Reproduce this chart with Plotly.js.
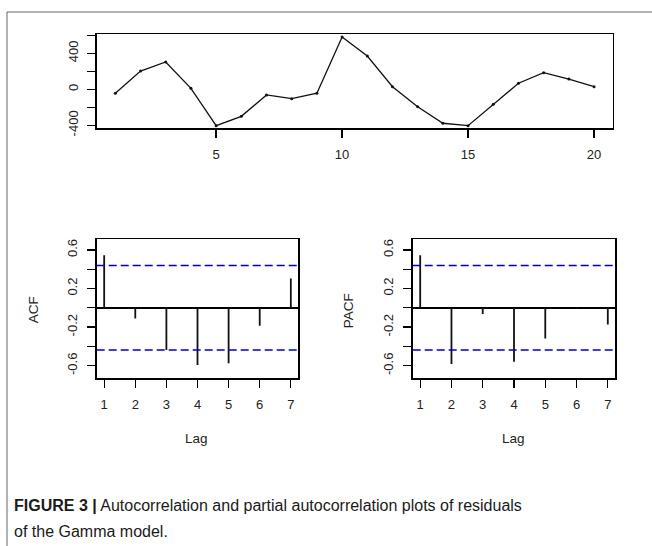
<!DOCTYPE html>
<html>
<head>
<meta charset="utf-8">
<script src="https://cdn.plot.ly/plotly-3.0.1.min.js"></script>
<style>html,body{margin:0;padding:0;background:#fff;}#chart{width:652px;height:546px;}</style>
</head>
<body>
<div id="chart"></div>
<script>
// Residual series (time index 1..20)
const timeIndex = [1,2,3,4,5,6,7,8,9,10,11,12,13,14,15,16,17,18,19,20];
const residuals = [-44,203,303,11,-404,-300,-63,-104,-44,580,370,29,-193,-377,-404,-167,67,184,114,29];

// ACF / PACF by lag
const lags = [1,2,3,4,5,6,7];
const acfValues  = [0.545,-0.110,-0.437,-0.593,-0.575,-0.186,0.304];
const pacfValues = [0.545,-0.582,-0.065,-0.558,-0.317,-0.010,-0.172];
const ciBound = 0.438;

// Tick labels
const topXTicks = [5,10,15,20];
const topYTicks = [-400,-200,0,200,400,600];
const topYText  = ['-400','','0','','400',''];
const corrTicks = [-0.6,-0.4,-0.2,0,0.2,0.4,0.6];
const corrText  = ['-0.6','','-0.2','','0.2','','0.6'];
const lagText   = ['1','2','3','4','5','6','7'];

function stems(xs, ys){
  const x=[], y=[];
  xs.forEach((l,i)=>{ x.push(l,l,null); y.push(0,ys[i],null); });
  return {x, y};
}
const acfS = stems(lags, acfValues);
const pacfS = stems(lags, pacfValues);

const W=652, H=546;
const px = v => v/W;
const py = v => 1 - v/H;

const tickFont = {family:'Liberation Sans, Arial, sans-serif', size:13, color:'#222'};
const titleFont = {family:'Liberation Sans, Arial, sans-serif', size:13.5, color:'#222'};
const baseAxis = {
  showgrid:false, zeroline:false, showline:true, mirror:true,
  linecolor:'#000', linewidth:1.3, ticks:'outside', ticklen:8, tickwidth:1.3,
  tickcolor:'#000', tickfont:tickFont, fixedrange:true
};

const traces = [
  {x:timeIndex, y:residuals, xaxis:'x', yaxis:'y', type:'scatter', mode:'lines+markers',
   line:{color:'#111', width:1.3}, marker:{color:'#111', size:3}, hoverinfo:'skip'},
  {x:acfS.x, y:acfS.y, xaxis:'x2', yaxis:'y2', type:'scatter', mode:'lines',
   line:{color:'#111', width:1.8}, hoverinfo:'skip'},
  {x:pacfS.x, y:pacfS.y, xaxis:'x3', yaxis:'y3', type:'scatter', mode:'lines',
   line:{color:'#111', width:1.8}, hoverinfo:'skip'}
];

const corrY = Object.assign({}, baseAxis, {
  range:[-0.73,0.713], tickmode:'array', tickvals:corrTicks, ticktext:corrText,
  tickangle:-90, zeroline:true, zerolinecolor:'#000', zerolinewidth:1.5,
  ticklabelstandoff:5
});
const lagX = Object.assign({}, baseAxis, {
  range:[0.76,7.24], tickmode:'array', tickvals:lags, ticktext:lagText,
  ticklabelstandoff:6
});

const ciLine = {color:'#0000c8', width:1.5, dash:'8px,4px'};

const layout = {
  width:W, height:H, margin:{l:0,r:0,t:0,b:0},
  paper_bgcolor:'#fff', plot_bgcolor:'#fff', showlegend:false,
  xaxis: Object.assign({}, baseAxis, {domain:[px(96.7),px(612.7)], range:[0.26,20.74],
    tickmode:'array', tickvals:topXTicks, ticktext:topXTicks.map(String), anchor:'y', ticklabelstandoff:6}),
  yaxis: Object.assign({}, baseAxis, {domain:[py(128.3),py(34)], range:[-433,614],
    tickmode:'array', tickvals:topYTicks, ticktext:topYText, tickangle:-90, anchor:'x', ticklabelstandoff:4}),
  xaxis2: Object.assign({}, lagX, {domain:[px(96.7),px(298.3)], anchor:'y2'}),
  yaxis2: Object.assign({}, corrY, {domain:[py(378.3),py(239)], anchor:'x2'}),
  xaxis3: Object.assign({}, lagX, {domain:[px(412.7),px(615.3)], anchor:'y3'}),
  yaxis3: Object.assign({}, corrY, {domain:[py(378.3),py(239)], anchor:'x3'}),
  shapes: [
    {type:'line', xref:'x2 domain', yref:'y2', x0:0, x1:1, y0:ciBound, y1:ciBound, line:ciLine},
    {type:'line', xref:'x2 domain', yref:'y2', x0:0, x1:1, y0:-ciBound, y1:-ciBound, line:ciLine},
    {type:'line', xref:'x3 domain', yref:'y3', x0:0, x1:1, y0:ciBound, y1:ciBound, line:ciLine},
    {type:'line', xref:'x3 domain', yref:'y3', x0:0, x1:1, y0:-ciBound, y1:-ciBound, line:ciLine},
    {type:'line', xref:'paper', yref:'paper', x0:px(7), x1:1, y0:py(12), y1:py(12), line:{color:'#666', width:1}},
    {type:'line', xref:'paper', yref:'paper', x0:px(7), x1:px(7), y0:py(12), y1:0, line:{color:'#666', width:1}}
  ],
  annotations: [
    {text:'ACF', xref:'paper', yref:'paper', x:px(33.3), y:py(310), textangle:-90, showarrow:false, xanchor:'center', yanchor:'middle', font:titleFont},
    {text:'PACF', xref:'paper', yref:'paper', x:px(348.3), y:py(311), textangle:-90, showarrow:false, xanchor:'center', yanchor:'middle', font:titleFont},
    {text:'Lag', xref:'paper', yref:'paper', x:px(196.7), y:py(438), showarrow:false, xanchor:'center', yanchor:'middle', font:titleFont},
    {text:'Lag', xref:'paper', yref:'paper', x:px(513.3), y:py(438), showarrow:false, xanchor:'center', yanchor:'middle', font:titleFont},
    {text:'<b>FIGURE 3 |</b> Autocorrelation and partial autocorrelation plots of residuals', xref:'paper', yref:'paper',
     x:px(12), y:py(505), showarrow:false, xanchor:'left', yanchor:'middle', align:'left',
     font:{family:'Liberation Sans Narrow, Liberation Sans, Arial, sans-serif', size:16, color:'#1a1a1a'}},
    {text:'of the Gamma model.', xref:'paper', yref:'paper',
     x:px(12), y:py(531), showarrow:false, xanchor:'left', yanchor:'middle', align:'left',
     font:{family:'Liberation Sans Narrow, Liberation Sans, Arial, sans-serif', size:16, color:'#1a1a1a'}}
  ]
};

Plotly.newPlot('chart', traces, layout, {staticPlot:true, displayModeBar:false});
</script>
</body>
</html>
